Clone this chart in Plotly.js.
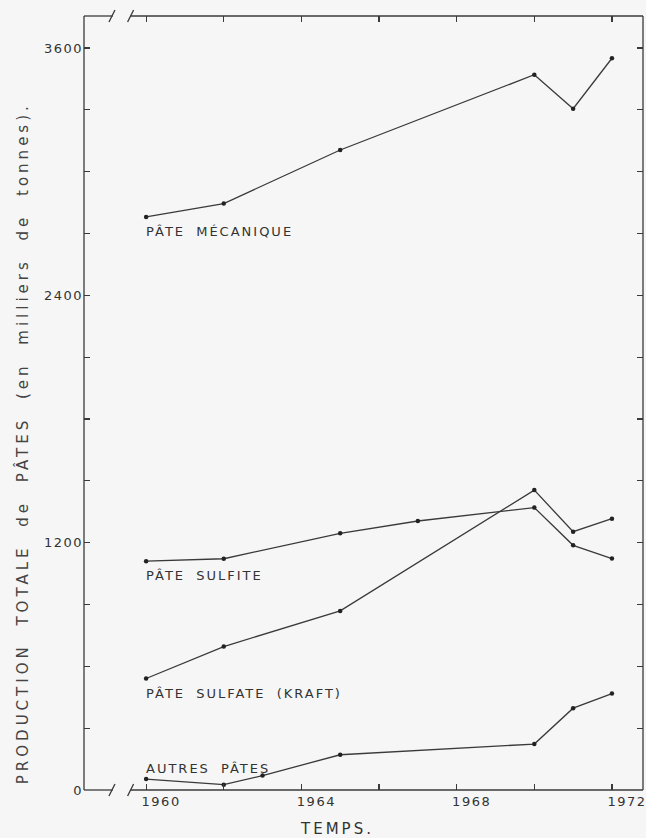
<!DOCTYPE html>
<html>
<head>
<meta charset="utf-8">
<script src="https://cdn.plot.ly/plotly-3.0.1.min.js"></script>
<style>
  html, body { margin: 0; padding: 0; background: #f6f6f6; }
  #chart { width: 646px; height: 838px; }
  .annotation-text { letter-spacing: 2px; word-spacing: 5px; }
  .ytick text, .xtick text { letter-spacing: 1.5px; }
  .ytitle { letter-spacing: 4px; word-spacing: 9px; }
  .xtitle { letter-spacing: 3px; }
</style>
</head>
<body>
<div id="chart"></div>
<script>
// ---- Data (production, thousands of tonnes) ----
const yearsMeca = [1960, 1962, 1965, 1970, 1971, 1972];
const meca = [2780, 2845, 3105, 3470, 3305, 3550];

const yearsSulfite = [1960, 1962, 1965, 1967, 1970, 1971, 1972];
const sulfite = [1110, 1122, 1245, 1305, 1370, 1187, 1123];

const yearsKraft = [1960, 1962, 1965, 1970, 1971, 1972];
const kraft = [541, 696, 869, 1455, 1253, 1316];

const yearsAutres = [1960, 1962, 1963, 1965, 1970, 1971, 1972];
const autres = [53, 26, 70, 171, 223, 397, 468];

const seriesNames = ["PÂTE MÉCANIQUE", "PÂTE SULFITE", "PÂTE SULFATE (KRAFT)", "AUTRES PÂTES"];

const xTickVals = [1960, 1962, 1964, 1966, 1968, 1970, 1972];
const xTickText = ["1960", "", "1964", "", "1968", "", "1972"];
const yTickVals = [0, 300, 600, 900, 1200, 1500, 1800, 2100, 2400, 2700, 3000, 3300, 3600];
const yTickText = ["0", "", "", "", "1200", "", "", "", "2400", "", "", "", "3600"];

const xTitle = "TEMPS.";
const yTitle = "PRODUCTION TOTALE de PÂTES (en milliers de tonnes).";

// ---- Styling ----
const ink = "#3a3a3a";
const FONT = "DejaVu Sans, Liberation Sans, sans-serif";
const lineStyle = { color: ink, width: 1.3 };
const markerStyle = { color: "#222", size: 4.5 };

function series(x, y, name) {
  return { x: x, y: y, name: name, type: "scatter", mode: "lines+markers",
           line: lineStyle, marker: markerStyle, hoverinfo: "x+y+name" };
}

const traces = [
  series(yearsMeca, meca, seriesNames[0]),
  series(yearsSulfite, sulfite, seriesNames[1]),
  series(yearsKraft, kraft, seriesNames[2]),
  series(yearsAutres, autres, seriesNames[3])
];

// Curve labels: anchored near the first point of each series
const labelY = [2708, 1042, 470, 102];
const annotations = seriesNames.map((t, i) => ({
  text: t, x: 1959.95, y: labelY[i], xref: "x", yref: "y",
  xanchor: "left", yanchor: "middle", showarrow: false,
  font: { family: FONT, size: 13, color: "#333" }
}));

// Frame with axis breaks
const brk1 = 1959.12, brk2 = 1959.60;
const frame = { color: ink, width: 1.3 };
const shapes = [
  { type: "line", xref: "paper", yref: "paper", x0: 0, x1: 0, y0: 0, y1: 1, line: frame },
  { type: "line", xref: "paper", yref: "paper", x0: 1, x1: 1, y0: 0, y1: 1, line: frame },
  { type: "line", xref: "paper", yref: "paper", x0: 0, x1: 0.0516, y0: 0, y1: 0, line: frame },
  { type: "line", xref: "x", yref: "paper", x0: brk2, x1: 1972.8, y0: 0, y1: 0, line: frame },
  { type: "line", xref: "paper", yref: "paper", x0: 0, x1: 0.0516, y0: 1, y1: 1, line: frame },
  { type: "line", xref: "x", yref: "paper", x0: brk2, x1: 1972.8, y0: 1, y1: 1, line: frame }
];
[brk1, brk2].forEach(b => {
  [0, 1].forEach(yp => {
    shapes.push({ type: "line", xref: "x", yref: "paper", xsizemode: "pixel", ysizemode: "pixel",
      xanchor: b, yanchor: yp, x0: -3, x1: 3, y0: -6, y1: 6, line: frame });
  });
});

const layout = {
  width: 646, height: 838,
  margin: { l: 84, r: 3, t: 16, b: 48 },
  paper_bgcolor: "#f6f6f6", plot_bgcolor: "#f6f6f6",
  showlegend: false,
  font: { family: FONT, color: "#333" },
  xaxis: {
    range: [1958.4, 1972.8], showgrid: false, zeroline: false, showline: false,
    tickmode: "array", tickvals: xTickVals, ticktext: xTickText,
    ticks: "inside", ticklen: 6, tickwidth: 1.2, tickcolor: ink, mirror: "ticks",
    ticklabelshift: 15, ticklabelstandoff: 2, ticklabeloverflow: "allow",
    tickfont: { family: FONT, size: 13, color: "#333" }
  },
  yaxis: {
    range: [0, 3755], showgrid: false, zeroline: false, showline: false,
    tickmode: "array", tickvals: yTickVals, ticktext: yTickText,
    ticks: "inside", ticklen: 6, tickwidth: 1.2, tickcolor: ink, mirror: "ticks",
    ticklabelstandoff: 0, ticklabeloverflow: "allow",
    tickfont: { family: FONT, size: 13, color: "#333" }
  },
  annotations: annotations.concat([
    { text: yTitle, xref: "paper", yref: "paper", x: -0.111, y: 0.448,
      xanchor: "center", yanchor: "middle", textangle: -90, showarrow: false,
      font: { family: FONT, size: 15, color: "#444" }, name: "ytitle" },
    { text: xTitle, xref: "paper", yref: "paper", x: 0.4526, y: -0.0504,
      xanchor: "center", yanchor: "middle", showarrow: false,
      font: { family: FONT, size: 15, color: "#333" }, name: "xtitle" }
  ]),
  shapes: shapes
};

Plotly.newPlot("chart", traces, layout, { displayModeBar: false, staticPlot: true }).then(() => {
  // wider tracking for the axis-title annotations
  const anns = document.querySelectorAll(".annotation-text");
  anns.forEach(el => {
    if (el.textContent === yTitle) { el.style.letterSpacing = "4px"; el.style.wordSpacing = "9px"; }
    if (el.textContent === xTitle) { el.style.letterSpacing = "3px"; }
  });
});
</script>
</body>
</html>
